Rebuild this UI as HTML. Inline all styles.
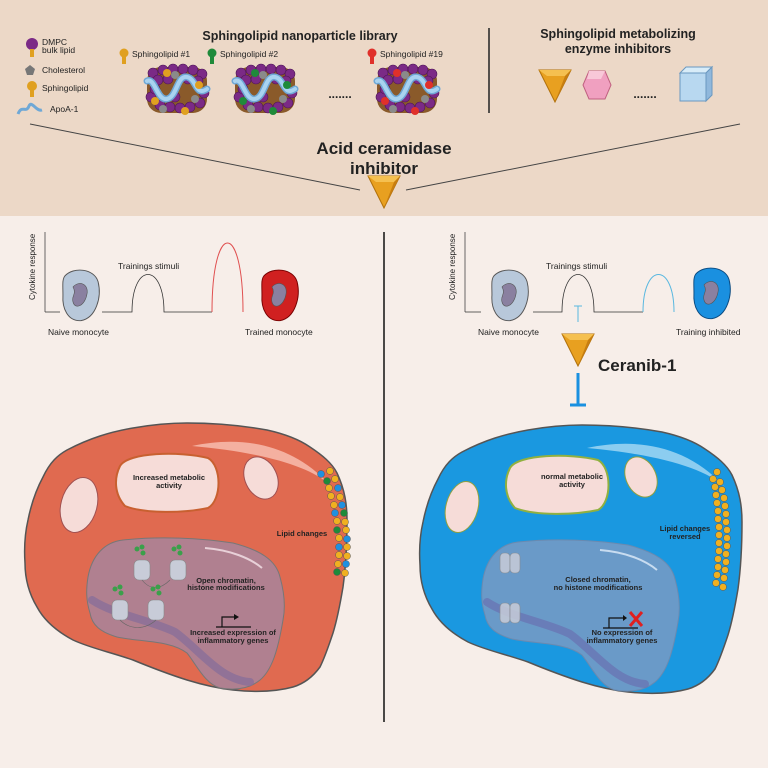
<!DOCTYPE html>
<html><head><meta charset="utf-8"><style>
html,body{margin:0;padding:0;background:#f7eee9}
svg{display:block}
text{font-family:"Liberation Sans",sans-serif;fill:#222}
</style></head><body>
<svg width="768" height="768" viewBox="0 0 768 768" xmlns="http://www.w3.org/2000/svg">
<defs>
<g id="np">
 <rect x="-30" y="-22" width="60" height="46" rx="14" fill="#8a5a2a"/>
 <g fill="#7b2a86" stroke="#4d1656" stroke-width="0.6">
  <circle cx="-24" cy="-16" r="5"/><circle cx="-14" cy="-19" r="5"/><circle cx="-4" cy="-20" r="5"/><circle cx="6" cy="-20" r="5"/><circle cx="16" cy="-19" r="5"/><circle cx="25" cy="-15" r="5"/>
  <circle cx="-19" cy="-9" r="5"/><circle cx="-9" cy="-10" r="5"/><circle cx="11" cy="-10" r="5"/><circle cx="21" cy="-8" r="5"/>
  <circle cx="-26" cy="8" r="5"/><circle cx="-17" cy="16" r="5"/><circle cx="-7" cy="18" r="5"/><circle cx="3" cy="19" r="5"/><circle cx="13" cy="18" r="5"/><circle cx="23" cy="14" r="5"/><circle cx="27" cy="4" r="5"/>
  <circle cx="-2" cy="8" r="5"/><circle cx="-22" cy="0" r="5"/>
 </g>
 <path d="M-30,-8 C-22,-12 -20,12 -10,10 C0,8 0,-14 10,-12 C20,-10 18,8 30,0" fill="none" stroke="#6fa8d6" stroke-width="7" stroke-linecap="round"/>
 <path d="M-30,-8 C-22,-12 -20,12 -10,10 C0,8 0,-14 10,-12 C20,-10 18,8 30,0" fill="none" stroke="#a9d3f0" stroke-width="4" stroke-linecap="round"/>
 <g fill="#8a8a8a"><circle cx="-2" cy="-14" r="4"/><circle cx="18" cy="10" r="4"/><circle cx="-14" cy="20" r="4"/></g>
</g>
<g id="tri">
 <path d="M-16,-10 L16,-10 L0,22 Z" fill="#e8a020" stroke="#b0700a" stroke-width="1"/>
 <path d="M-16,-10 L16,-10 L10,-4 L-8,-4 Z" fill="#f5c050"/>
 <path d="M10,-4 L16,-10 L0,22 Z" fill="#c87e10"/>
</g>
<g id="mono">
 <path d="M-17,-20 C-8,-30 14,-28 18,-14 C22,2 16,24 0,27 C-14,28 -20,14 -19,0 C-19,-10 -20,-16 -17,-20Z"/>
</g>
<path id="nuc" d="M123,540 C160,536 200,538 233,543 C260,550 276,560 280,577 C285,595 285,610 283,620 C278,650 272,670 260,680 C248,690 232,690 220,688 C205,684 196,664 187,653 C170,640 140,642 117,637 C100,632 92,625 90,613 C86,600 86,590 88,577 C92,555 105,542 123,540Z"/>
</defs>

<rect x="0" y="0" width="768" height="216" fill="#ecd8c7"/>

<text x="300" y="40" font-size="12.5" font-weight="bold" text-anchor="middle">Sphingolipid nanoparticle library</text>
<text x="618" y="38" font-size="12.5" font-weight="bold" text-anchor="middle">Sphingolipid metabolizing</text>
<text x="618" y="53" font-size="12.5" font-weight="bold" text-anchor="middle">enzyme inhibitors</text>
<line x1="489" y1="28" x2="489" y2="113" stroke="#222" stroke-width="1.5"/>

<circle cx="32" cy="44" r="6" fill="#7b2a86"/><rect x="30" y="49" width="4" height="8" fill="#e0a020"/>
<text x="42" y="45" font-size="8.5">DMPC</text><text x="42" y="53" font-size="8.5">bulk lipid</text>
<path d="M30,65 L35,69 L33,75 L27,75 L25,69Z" fill="#777"/>
<text x="42" y="73" font-size="8.5">Cholesterol</text>
<circle cx="32" cy="86" r="5" fill="#e0a020"/><rect x="30" y="90" width="4" height="7" fill="#e0a020"/>
<text x="42" y="91" font-size="8.5">Sphingolipid</text>
<path d="M18,114 C22,104 26,114 29,106 C32,100 36,112 42,110" fill="none" stroke="#6fa8d6" stroke-width="3"/>
<text x="50" y="112" font-size="8.5">ApoA-1</text>

<circle cx="124" cy="53" r="4.5" fill="#e0a020"/><rect x="122" y="57" width="4" height="7" fill="#e0a020"/>
<text x="132" y="57" font-size="8.5">Sphingolipid #1</text>
<circle cx="212" cy="53" r="4.5" fill="#1f8a3a"/><rect x="210" y="57" width="4" height="7" fill="#1f8a3a"/>
<text x="220" y="57" font-size="8.5">Sphingolipid #2</text>
<circle cx="372" cy="53" r="4.5" fill="#e0302a"/><rect x="370" y="57" width="4" height="7" fill="#e0302a"/>
<text x="380" y="57" font-size="8.5">Sphingolipid #19</text>

<g transform="translate(177,89)"><use href="#np"/><g fill="#e0a020"><circle cx="-10" cy="-16" r="4"/><circle cx="22" cy="-4" r="4"/><circle cx="-22" cy="12" r="4"/><circle cx="8" cy="22" r="4"/></g></g>
<g transform="translate(265,89)"><use href="#np"/><g fill="#1f8a3a"><circle cx="-10" cy="-16" r="4"/><circle cx="22" cy="-4" r="4"/><circle cx="-22" cy="12" r="4"/><circle cx="8" cy="22" r="4"/></g></g>
<text x="340" y="98" font-size="12" text-anchor="middle" font-weight="bold">.......</text>
<g transform="translate(407,89)"><use href="#np"/><g fill="#e0302a"><circle cx="-10" cy="-16" r="4"/><circle cx="22" cy="-4" r="4"/><circle cx="-22" cy="12" r="4"/><circle cx="8" cy="22" r="4"/></g></g>

<g transform="translate(555,80)"><use href="#tri"/></g>
<g transform="translate(597,85)">
 <path d="M-8,-14 L8,-14 L14,0 L8,14 L-8,14 L-14,0Z" fill="#f0a0c0" stroke="#c06080" stroke-width="1"/>
 <path d="M-8,-14 L8,-14 L4,-6 L-10,-6Z" fill="#f8c8d8"/>
</g>
<text x="645" y="98" font-size="12" text-anchor="middle" font-weight="bold">.......</text>
<g transform="translate(695,85)">
 <rect x="-15" y="-12" width="26" height="28" fill="#b8d8f0" stroke="#6a98c0"/>
 <path d="M-15,-12 L-9,-18 L17,-18 L11,-12Z" fill="#d8ecf8" stroke="#6a98c0"/>
 <path d="M11,-12 L17,-18 L17,10 L11,16Z" fill="#90b8dc" stroke="#6a98c0"/>
</g>

<line x1="30" y1="124" x2="360" y2="190" stroke="#444" stroke-width="1"/>
<line x1="406" y1="190" x2="740" y2="124" stroke="#444" stroke-width="1"/>
<text x="384" y="154" font-size="17" font-weight="bold" text-anchor="middle">Acid ceramidase</text>
<text x="384" y="174" font-size="17" font-weight="bold" text-anchor="middle">inhibitor</text>
<g transform="translate(384,186)"><use href="#tri"/></g>

<line x1="384" y1="232" x2="384" y2="722" stroke="#111" stroke-width="1.5"/>

<!-- left chart -->
<line x1="45" y1="232" x2="45" y2="312" stroke="#444" stroke-width="0.8"/>
<path d="M45,312 L60,312 M102,312 L132,312 C132,262 164,262 164,312 L212,312" fill="none" stroke="#333" stroke-width="0.8"/>
<path d="M212,312 C212,220 243,220 243,312" fill="none" stroke="#e05050" stroke-width="1"/>
<text transform="translate(35,300) rotate(-90)" font-size="8">Cytokine response</text>
<text x="118" y="269" font-size="8.5">Trainings stimuli</text>
<g transform="translate(81,295) scale(0.95)" fill="#b8c8da" stroke="#555" stroke-width="1"><use href="#mono"/></g>
<path d="M73,287 C79,280 89,284 87,294 C85,306 75,310 73,302 C71,296 77,294 73,287Z" fill="#8a80a0" stroke="#555" stroke-width="0.6"/>
<g transform="translate(280,295) scale(0.95)" fill="#d02020" stroke="#700" stroke-width="1"><use href="#mono"/></g>
<path d="M272,287 C278,280 288,284 286,294 C284,306 274,310 272,302 C270,296 276,294 272,287Z" fill="#8a80a0" stroke="#555" stroke-width="0.6"/>
<text x="48" y="335" font-size="8.5">Naive monocyte</text>
<text x="245" y="335" font-size="8.5">Trained monocyte</text>

<!-- right chart -->
<line x1="465" y1="232" x2="465" y2="312" stroke="#444" stroke-width="0.8"/>
<path d="M465,312 L481,312 M533,312 L562,312 C562,262 594,262 594,312 L643,312" fill="none" stroke="#333" stroke-width="0.8"/>
<path d="M643,312 C643,262 674,262 674,312" fill="none" stroke="#5ab8e0" stroke-width="1"/>
<text transform="translate(455,300) rotate(-90)" font-size="8">Cytokine response</text>
<text x="546" y="269" font-size="8.5">Trainings stimuli</text>
<g transform="translate(510,295) scale(0.95)" fill="#b8c8da" stroke="#555" stroke-width="1"><use href="#mono"/></g>
<path d="M502,287 C508,280 518,284 516,294 C514,306 504,310 502,302 C500,296 506,294 502,287Z" fill="#8a80a0" stroke="#555" stroke-width="0.6"/>
<g transform="translate(712,293) scale(0.95)" fill="#1a90e0" stroke="#0a4a80" stroke-width="1"><use href="#mono"/></g>
<path d="M704,285 C710,278 720,282 718,292 C716,304 706,308 704,300 C702,294 708,292 704,285Z" fill="#8a80a0" stroke="#555" stroke-width="0.6"/>
<text x="478" y="335" font-size="8.5">Naive monocyte</text>
<text x="676" y="335" font-size="8.5">Training inhibited</text>
<path d="M578,306 L578,322 M574,306 L582,306" stroke="#5ab8e0" stroke-width="1" fill="none"/>
<g transform="translate(578,344)"><use href="#tri"/></g>
<text x="598" y="371" font-size="17" font-weight="bold">Ceranib-1</text>
<path d="M578,373 L578,405 M570,405 L586,405" stroke="#1a90e0" stroke-width="3" fill="none"/>

<!-- left cell -->
<path d="M43,477 C50,462 58,455 67,450 C90,438 110,432 133,428 C150,425 170,423 187,423 C220,423 245,426 267,430 C285,434 300,440 310,447 C322,455 332,463 337,473 C345,490 347,505 347,520 C347,545 346,565 343,587 C340,605 337,620 333,633 C329,645 325,657 320,667 C312,678 303,684 293,687 C275,692 252,692 233,690 C215,688 200,684 187,680 C168,674 150,667 133,660 C110,652 90,648 73,640 C58,632 45,622 37,607 C28,592 25,578 25,563 C24,548 25,533 28,520 C31,505 36,490 43,477Z" fill="#e06a50" stroke="#555" stroke-width="1.5"/>
<path d="M192,446 C240,436 290,442 330,485 C310,466 260,452 192,446Z" fill="#f4b0a0"/>
<use href="#nuc" fill="#b08090" stroke="#777" stroke-width="1"/>
<path d="M92,600 C115,615 150,620 175,632 C200,650 220,680 250,682" fill="none" stroke="#8a6e98" stroke-width="8" stroke-linecap="round" opacity="0.8"/>
<path d="M205,548 C230,550 250,558 262,568" fill="none" stroke="#e8d0d8" stroke-width="2"/>
<path d="M120,466 C128,452 180,451 208,458 C222,466 222,500 208,508 C185,513 145,514 125,506 C114,494 114,478 120,466Z" fill="#f6dcd8" stroke="#c86030" stroke-width="2"/>
<g fill="#f6dcd8" stroke="#a05050" stroke-width="1">
 <ellipse cx="79" cy="505" rx="18" ry="28" transform="rotate(15 79 505)"/>
 <ellipse cx="261" cy="478" rx="16" ry="22" transform="rotate(-25 261 478)"/>
</g>
<text x="169" y="480" font-size="7.5" font-weight="bold" text-anchor="middle">Increased metabolic</text>
<text x="169" y="488" font-size="7.5" font-weight="bold" text-anchor="middle">activity</text>
<text x="302" y="536" font-size="7.5" font-weight="bold" text-anchor="middle">Lipid changes</text>
<g fill="#c8ccd8" stroke="#888" stroke-width="0.6">
 <rect x="134" y="560" width="16" height="20" rx="5"/><rect x="170" y="560" width="16" height="20" rx="5"/>
 <rect x="112" y="600" width="16" height="20" rx="5"/><rect x="148" y="600" width="16" height="20" rx="5"/>
</g>
<path d="M142,580 C150,590 160,590 170,580 M120,620 C130,630 145,630 156,620" fill="none" stroke="#666" stroke-width="0.6"/>
<g fill="#3aa04a">
 <circle cx="137" cy="549" r="2.5"/><circle cx="142" cy="547" r="2.5"/><circle cx="143" cy="553" r="2.5"/>
 <circle cx="174" cy="549" r="2.5"/><circle cx="179" cy="547" r="2.5"/><circle cx="180" cy="553" r="2.5"/>
 <circle cx="115" cy="589" r="2.5"/><circle cx="120" cy="587" r="2.5"/><circle cx="121" cy="593" r="2.5"/>
 <circle cx="153" cy="589" r="2.5"/><circle cx="158" cy="587" r="2.5"/><circle cx="159" cy="593" r="2.5"/>
</g>
<text x="226" y="583" font-size="7.5" font-weight="bold" text-anchor="middle">Open chromatin,</text>
<text x="226" y="590" font-size="7.5" font-weight="bold" text-anchor="middle">histone modifications</text>
<path d="M216,627 L251,627 M222,627 L222,617 L234,617" fill="none" stroke="#111" stroke-width="1.2"/>
<path d="M234,614 L239,617 L234,620Z" fill="#111"/>
<text x="233" y="635" font-size="7.5" font-weight="bold" text-anchor="middle">Increased expression of</text>
<text x="233" y="643" font-size="7.5" font-weight="bold" text-anchor="middle">inflammatory genes</text>
<g stroke="#555" stroke-width="0.5">
 <circle cx="321" cy="474" r="3.5" fill="#2090e0"/><circle cx="330" cy="471" r="3.5" fill="#f0b020"/><circle cx="327" cy="481" r="3.5" fill="#1f8a3a"/>
 <circle cx="335" cy="479" r="3.5" fill="#f0b020"/><circle cx="329" cy="488" r="3.5" fill="#f0b020"/><circle cx="338" cy="488" r="3.5" fill="#2090e0"/>
 <circle cx="331" cy="496" r="3.5" fill="#f0b020"/><circle cx="340" cy="497" r="3.5" fill="#f0b020"/><circle cx="334" cy="505" r="3.5" fill="#f0b020"/>
 <circle cx="342" cy="505" r="3.5" fill="#2090e0"/><circle cx="335" cy="513" r="3.5" fill="#2090e0"/><circle cx="344" cy="513" r="3.5" fill="#1f8a3a"/>
 <circle cx="337" cy="521" r="3.5" fill="#f0b020"/><circle cx="345" cy="522" r="3.5" fill="#f0b020"/><circle cx="337" cy="530" r="3.5" fill="#1f8a3a"/>
 <circle cx="346" cy="530" r="3.5" fill="#f0b020"/><circle cx="339" cy="538" r="3.5" fill="#f0b020"/><circle cx="347" cy="539" r="3.5" fill="#2090e0"/>
 <circle cx="339" cy="547" r="3.5" fill="#2090e0"/><circle cx="347" cy="547" r="3.5" fill="#f0b020"/><circle cx="339" cy="555" r="3.5" fill="#f0b020"/>
 <circle cx="347" cy="556" r="3.5" fill="#f0b020"/><circle cx="338" cy="564" r="3.5" fill="#f0b020"/><circle cx="346" cy="564" r="3.5" fill="#2090e0"/>
 <circle cx="337" cy="572" r="3.5" fill="#1f8a3a"/><circle cx="345" cy="573" r="3.5" fill="#f0b020"/>
</g>

<!-- right cell -->
<g transform="translate(395,2)">
<path d="M43,477 C50,462 58,455 67,450 C90,438 110,432 133,428 C150,425 170,423 187,423 C220,423 245,426 267,430 C285,434 300,440 310,447 C322,455 332,463 337,473 C345,490 347,505 347,520 C347,545 346,565 343,587 C340,605 337,620 333,633 C329,645 325,657 320,667 C312,678 303,684 293,687 C275,692 252,692 233,690 C215,688 200,684 187,680 C168,674 150,667 133,660 C110,652 90,648 73,640 C58,632 45,622 37,607 C28,592 25,578 25,563 C24,548 25,533 28,520 C31,505 36,490 43,477Z" fill="#1a98e0" stroke="#555" stroke-width="1.5"/>
<path d="M192,446 C240,436 290,442 330,485 C310,466 260,452 192,446Z" fill="#8ccdf0"/>
<use href="#nuc" fill="#6a9ac8" stroke="#6a8ab0" stroke-width="1"/>
<path d="M92,600 C115,615 150,620 175,632 C200,650 220,680 250,682" fill="none" stroke="#6a70b0" stroke-width="8" stroke-linecap="round" opacity="0.7"/>
<path d="M205,548 C230,550 250,558 262,568" fill="none" stroke="#c8dcf0" stroke-width="2"/>
<path d="M115,466 C123,452 175,451 203,458 C217,466 217,500 203,508 C180,513 140,514 120,506 C109,494 109,478 115,466Z" fill="#f6dcd8" stroke="#90b040" stroke-width="2"/>
<g fill="#f6dcd8" stroke="#90a040" stroke-width="1">
 <ellipse cx="67" cy="505" rx="16" ry="26" transform="rotate(15 67 505)"/>
 <ellipse cx="246" cy="475" rx="15" ry="21" transform="rotate(-25 246 475)"/>
</g>
<text x="177" y="477" font-size="7.5" font-weight="bold" text-anchor="middle">normal metabolic</text>
<text x="177" y="485" font-size="7.5" font-weight="bold" text-anchor="middle">activity</text>
<text x="290" y="529" font-size="7.5" font-weight="bold" text-anchor="middle">Lipid changes</text>
<text x="290" y="537" font-size="7.5" font-weight="bold" text-anchor="middle">reversed</text>
<g fill="#c8ccd8" stroke="#888" stroke-width="0.6" opacity="0.85">
 <rect x="105" y="551" width="10" height="20" rx="4"/><rect x="115" y="551" width="10" height="20" rx="4"/>
 <rect x="105" y="601" width="10" height="20" rx="4"/><rect x="115" y="601" width="10" height="20" rx="4"/>
</g>
<text x="203" y="580" font-size="7.5" font-weight="bold" text-anchor="middle">Closed chromatin,</text>
<text x="203" y="588" font-size="7.5" font-weight="bold" text-anchor="middle">no histone modifications</text>
<path d="M208,626 L243,626 M214,626 L214,616 L228,616" fill="none" stroke="#111" stroke-width="1.2"/>
<path d="M228,613 L232,616 L228,619Z" fill="#111"/>
<path d="M235,610 L247,624 M247,610 L235,624" stroke="#e02020" stroke-width="3"/>
<text x="227" y="633" font-size="7.5" font-weight="bold" text-anchor="middle">No expression of</text>
<text x="227" y="641" font-size="7.5" font-weight="bold" text-anchor="middle">inflammatory genes</text>
</g>
<g stroke="#555" stroke-width="0.5" fill="#f0b020">
 <circle cx="717" cy="472" r="3.5"/><circle cx="713" cy="479" r="3.5"/><circle cx="720" cy="482" r="3.5"/>
 <circle cx="715" cy="487" r="3.5"/><circle cx="722" cy="490" r="3.5"/><circle cx="716" cy="495" r="3.5"/><circle cx="724" cy="498" r="3.5"/>
 <circle cx="717" cy="503" r="3.5"/><circle cx="725" cy="506" r="3.5"/><circle cx="718" cy="511" r="3.5"/><circle cx="726" cy="514" r="3.5"/>
 <circle cx="718" cy="519" r="3.5"/><circle cx="726" cy="522" r="3.5"/><circle cx="719" cy="527" r="3.5"/><circle cx="727" cy="530" r="3.5"/>
 <circle cx="719" cy="535" r="3.5"/><circle cx="727" cy="538" r="3.5"/><circle cx="719" cy="543" r="3.5"/><circle cx="727" cy="546" r="3.5"/>
 <circle cx="719" cy="551" r="3.5"/><circle cx="726" cy="554" r="3.5"/><circle cx="718" cy="559" r="3.5"/><circle cx="726" cy="562" r="3.5"/>
 <circle cx="718" cy="567" r="3.5"/><circle cx="725" cy="570" r="3.5"/><circle cx="717" cy="575" r="3.5"/><circle cx="724" cy="578" r="3.5"/>
 <circle cx="716" cy="583" r="3.5"/><circle cx="723" cy="587" r="3.5"/>
</g>
</svg>
</body></html>
